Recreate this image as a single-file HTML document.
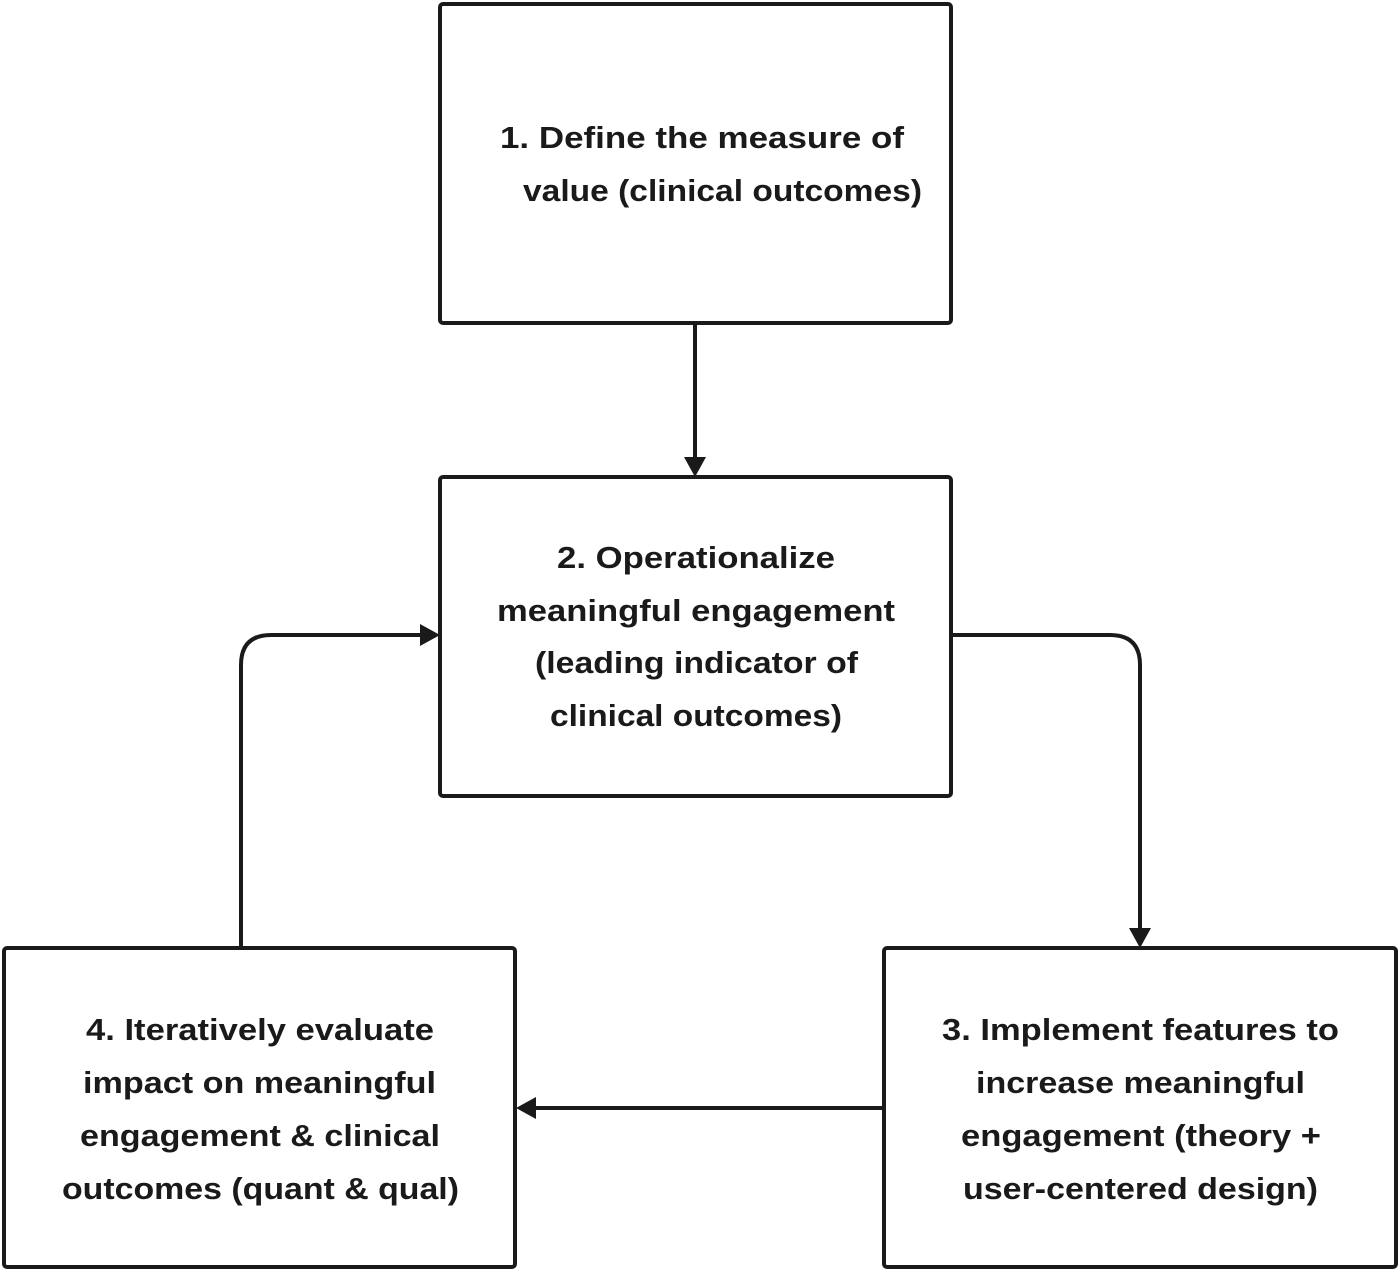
<!DOCTYPE html>
<html><head><meta charset="utf-8"><style>html,body{margin:0;padding:0;background:#fff}</style></head>
<body>
<svg width="1400" height="1272" viewBox="0 0 1400 1272" xmlns="http://www.w3.org/2000/svg">
<g fill="none" stroke="#1a1a1a" stroke-width="4">
<rect x="440" y="4" width="511" height="319" rx="3"/>
<rect x="440" y="477" width="511" height="319" rx="3"/>
<rect x="884" y="948" width="512" height="319" rx="3"/>
<rect x="4" y="948" width="511" height="319" rx="3"/>
<path d="M695 325 V460"/>
<path d="M953 635 H1110 Q1140 635 1140 665 V930"/>
<path d="M241 946 V665 Q241 635 271 635 H422"/>
<path d="M882 1108 H534"/>
</g>
<g fill="#1a1a1a">
<polygon points="684,457 706,457 695,477"/>
<polygon points="1129,928 1151,928 1140,948"/>
<polygon points="420,624 420,646 440,635"/>
<polygon points="536,1097 536,1119 516,1108"/>
</g>
<g font-family="Liberation Sans, sans-serif" font-weight="bold" font-size="31" fill="#1a1a1a" lengthAdjust="spacingAndGlyphs">
<text x="500" y="148" textLength="404" lengthAdjust="spacingAndGlyphs">1. Define the measure of</text>
<text x="523" y="201" textLength="399" lengthAdjust="spacingAndGlyphs">value (clinical outcomes)</text>
<text x="557" y="568" textLength="278" lengthAdjust="spacingAndGlyphs">2. Operationalize</text>
<text x="497" y="621" textLength="398" lengthAdjust="spacingAndGlyphs">meaningful engagement</text>
<text x="535" y="673" textLength="323" lengthAdjust="spacingAndGlyphs">(leading indicator of</text>
<text x="550" y="726" textLength="292" lengthAdjust="spacingAndGlyphs">clinical outcomes)</text>
<text x="942" y="1040" textLength="397" lengthAdjust="spacingAndGlyphs">3. Implement features to</text>
<text x="976" y="1093" textLength="329" lengthAdjust="spacingAndGlyphs">increase meaningful</text>
<text x="961" y="1146" textLength="360" lengthAdjust="spacingAndGlyphs">engagement (theory +</text>
<text x="963" y="1199" textLength="355" lengthAdjust="spacingAndGlyphs">user-centered design)</text>
<text x="86" y="1040" textLength="348" lengthAdjust="spacingAndGlyphs">4. Iteratively evaluate</text>
<text x="83" y="1093" textLength="353" lengthAdjust="spacingAndGlyphs">impact on meaningful</text>
<text x="80" y="1146" textLength="360" lengthAdjust="spacingAndGlyphs">engagement &amp; clinical</text>
<text x="62" y="1199" textLength="397" lengthAdjust="spacingAndGlyphs">outcomes (quant &amp; qual)</text>
</g>
</svg>
</body></html>
